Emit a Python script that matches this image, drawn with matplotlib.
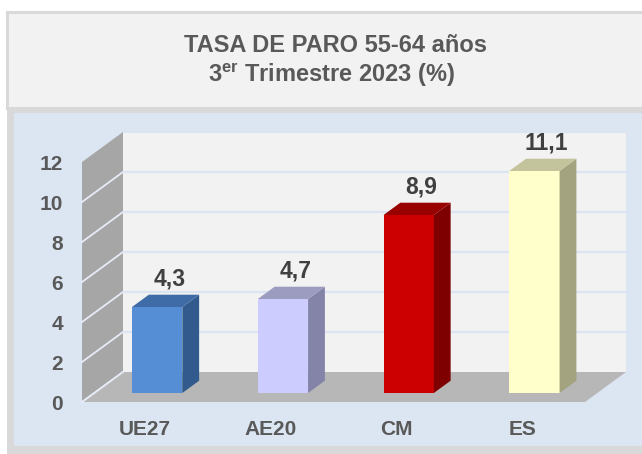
import matplotlib
matplotlib.use('Agg')
import matplotlib.pyplot as plt
from matplotlib.patches import Rectangle, Polygon
import numpy as np

# ---- data ----
categories = ['UE27', 'AE20', 'CM', 'ES']
values = [4.3, 4.7, 8.9, 11.1]
value_labels = ['4,3', '4,7', '8,9', '11,1']
yticks = [0, 2, 4, 6, 8, 10, 12]
ytick_labels = ['0', '2', '4', '6', '8', '10', '12']
front_colors = ['#558ed5', '#ccccff', '#cc0000', '#ffffcc']
side_colors = ['#335a8c', '#8484a8', '#7f0000', '#a3a380']
top_colors = ['#3f6ca6', '#9c9cc0', '#990000', '#c4c49c']
title_line1 = 'TASA DE PARO 55-64 años'
title_line2 = '3$^{\\mathbf{er}}$ Trimestre 2023 (%)'

plt.rcParams['font.family'] = ['Liberation Sans', 'DejaVu Sans']
plt.rcParams['font.weight'] = 'bold'
plt.rcParams['mathtext.fontset'] = 'custom'
plt.rcParams['mathtext.bf'] = 'Liberation Sans:bold'
plt.rcParams['mathtext.rm'] = 'Liberation Sans:bold'

W, H = 642, 454
fig = plt.figure(figsize=(W / 100, H / 100), dpi=100)
fig.patch.set_facecolor('white')


def fig_rect(x0, y0, x1, y1, **kw):
    r = Rectangle((x0 / W, 1 - y1 / H), (x1 - x0) / W, (y1 - y0) / H,
                  transform=fig.transFigure, **kw)
    fig.add_artist(r)
    return r


# background boxes
fig_rect(7, 12, 660, 108, facecolor='#f2f2f2', edgecolor='#d9d9d9', linewidth=2.2, zorder=0)
fig_rect(7, 107, 660, 460, facecolor='#d9d9d9', edgecolor='none', zorder=0)
fig_rect(14, 113, 660, 446, facecolor='#dce6f2', edgecolor='none', zorder=0)

# title
fig.text(336 / W, 1 - 46 / H, title_line1, ha='center', va='center',
         fontsize=17, fontweight='bold', color='#595959')
fig.text(332 / W, 1 - 75 / H, title_line2, ha='center', va='center',
         fontsize=17, fontweight='bold', color='#595959')

# main axes = front plane of the 3D box
ax = fig.add_axes([82 / W, 1 - 402 / H, (585 - 82) / W, (402 - 162) / H])
ax.set_xlim(-0.5, 3.5)
ax.set_ylim(0, 12)
ax.patch.set_visible(False)
for s in ax.spines.values():
    s.set_visible(False)

p00 = ax.transData.transform((0, 0))
p11 = ax.transData.transform((1, 1))
sx = p11[0] - p00[0]
sy = p11[1] - p00[1]
DXu = 41 / sx   # depth offset in data units
DYu = 30 / sy

x0, x1 = ax.get_xlim()
ytop = yticks[-1]

# back wall
ax.add_patch(Rectangle((x0 + DXu, DYu), x1 - x0, ytop, facecolor='#f2f2f2',
                       edgecolor='none', zorder=0.5, clip_on=False))
for y in yticks[1:]:
    ax.plot([x0 + DXu, x1 + DXu], [y + DYu, y + DYu], color='#dbe4f0',
            lw=1.6, zorder=0.6, clip_on=False, solid_capstyle='butt')
# left wall
ax.add_patch(Polygon([(x0, 0), (x0 + DXu, DYu), (x0 + DXu, ytop + DYu), (x0, ytop)],
                     closed=True, facecolor='#a6a6a6', edgecolor='none',
                     zorder=0.7, clip_on=False))
for y in yticks[:-1]:
    ax.plot([x0, x0 + DXu], [y, y + DYu], color='#e6ecf5', lw=1.3,
            zorder=0.8, clip_on=False)
# floor
ax.add_patch(Polygon([(x0, 0), (x1, 0), (x1 + DXu, DYu), (x0 + DXu, DYu)],
                     closed=True, facecolor='#b7b7b7', edgecolor='none',
                     zorder=0.9, clip_on=False))
ax.plot([x0, x0 + DXu], [0, DYu], color='#e6ecf5', lw=1.3, zorder=0.95, clip_on=False)

# bars
f0, f1 = 0.30, 0.71
bw = 0.4
x = np.arange(len(categories))
ax.bar(x + f0 * DXu, values, width=bw, bottom=f0 * DYu, color=front_colors,
       linewidth=0, zorder=3, clip_on=False)
d = (f1 - f0) * DXu
e = (f1 - f0) * DYu
for xi, v, sc, tc in zip(x, values, side_colors, top_colors):
    left = xi + f0 * DXu - bw / 2
    right = left + bw
    b = f0 * DYu
    t = b + v
    ax.add_patch(Polygon([(right, b), (right + d, b + e), (right + d, t + e), (right, t)],
                         closed=True, facecolor=sc, edgecolor='none', zorder=3, clip_on=False))
    ax.add_patch(Polygon([(left, t), (right, t), (right + d, t + e), (left + d, t + e)],
                         closed=True, facecolor=tc, edgecolor='none', zorder=3, clip_on=False))

for xi, v, lbl in zip(x, values, value_labels):
    ax.annotate(lbl, (xi + 0.6 * DXu, v + 0.6 * DYu), xytext=(0, 14),
                textcoords='offset points', ha='center', va='center',
                fontsize=16.5, fontweight='bold', color='#404040', zorder=5)

ax.set_yticks(yticks)
ax.set_yticklabels(ytick_labels)
ax.set_xticks(x)
ax.set_xticklabels(categories)
ax.tick_params(axis='y', length=0, pad=13.5, labelsize=15, labelcolor='#595959')
ax.tick_params(axis='x', length=0, pad=13, labelsize=15, labelcolor='#595959')
for lab in ax.get_xticklabels() + ax.get_yticklabels():
    lab.set_fontweight('bold')

fig.savefig('out.png', dpi=100)
